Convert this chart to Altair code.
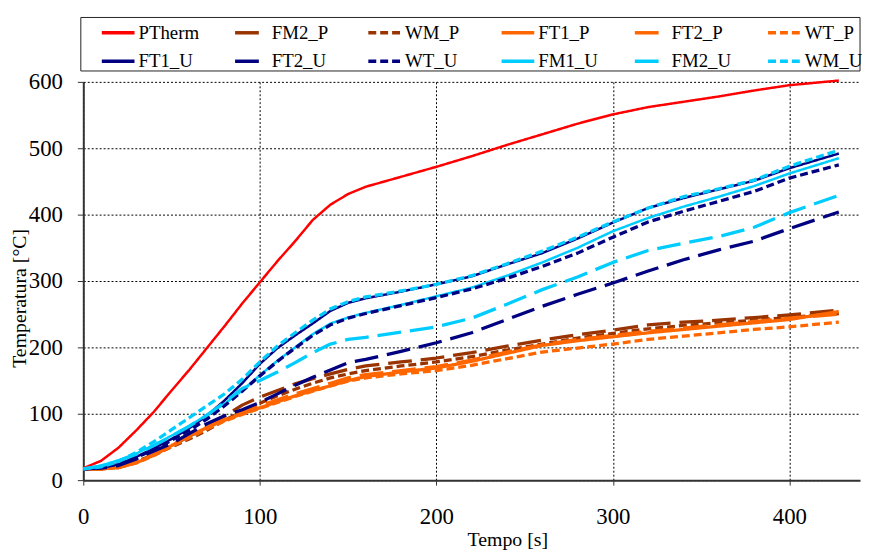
import altair as alt
import pandas as pd

# ---- data ----
time_s = [0, 10, 20, 30, 40, 50, 60, 70, 80, 90, 100, 110, 120, 130, 140, 150, 160,
          180, 200, 220, 240, 260, 280, 300, 320, 340, 360, 380, 400, 428]

ptherm = [18, 29, 49, 75, 103, 135, 166, 199, 232, 266, 298, 330, 360, 392, 415, 431, 442,
          457, 472, 488, 505, 521, 537, 551, 562, 570, 578, 587, 595, 602]
fm2_p = [17, 17, 19, 27, 38, 52, 66, 79, 96, 113, 125, 135, 145, 153, 160, 167, 172,
         178, 184, 192, 202, 211, 219, 226, 234, 238, 241, 245, 249, 256]
wm_p = [17, 17, 20, 28, 38, 50, 62, 75, 90, 104, 116, 127, 137, 146, 154, 160, 165,
        172, 178, 186, 196, 205, 214, 221, 228, 233, 237, 241, 245, 251]
ft1_p = [17, 17, 19, 26, 38, 52, 67, 79, 90, 100, 109, 118, 127, 135, 142, 150, 156,
         163, 169, 179, 191, 203, 210, 216, 222, 227, 232, 237, 242, 254]
ft2_p = [17, 17, 19, 27, 39, 53, 67, 80, 92, 103, 112, 121, 130, 138, 146, 154, 159,
         165, 171, 181, 193, 204, 212, 218, 224, 229, 234, 239, 244, 250]
wt_p = [17, 17, 19, 26, 37, 51, 64, 77, 89, 99, 108, 117, 126, 134, 142, 149, 154,
        160, 165, 173, 183, 193, 199, 205, 212, 217, 222, 227, 231, 238]
ft1_u = [17, 19, 24, 35, 48, 62, 78, 97, 120, 146, 175, 199, 218, 236, 255, 267, 274,
         284, 295, 307, 325, 342, 364, 388, 410, 425, 438, 451, 470, 492]
ft2_u = [17, 18, 22, 32, 44, 55, 70, 85, 97, 106, 117, 130, 143, 155, 166, 177, 182,
         194, 207, 222, 242, 262, 280, 297, 315, 332, 347, 360, 379, 404]
wt_u = [17, 19, 24, 34, 46, 60, 75, 92, 112, 134, 157, 179, 199, 218, 234, 244, 251,
        263, 275, 288, 304, 322, 342, 366, 389, 405, 420, 435, 455, 475]
fm1_u = [17, 22, 30, 40, 53, 67, 82, 98, 115, 135, 158, 180, 200, 220, 236, 245, 252,
         264, 277, 290, 308, 328, 350, 375, 395, 412, 427, 443, 462, 485]
fm2_u = [17, 21, 29, 39, 52, 66, 81, 98, 117, 138, 150, 163, 177, 192, 205, 212, 215,
         223, 231, 244, 265, 287, 306, 328, 346, 357, 367, 381, 403, 429]
wm_u = [17, 20, 28, 42, 58, 76, 94, 112, 130, 152, 178, 202, 222, 241, 258, 269, 276,
        285, 295, 308, 326, 345, 366, 389, 410, 427, 439, 452, 473, 497]

series_names = ["PTherm", "FM2_P", "WM_P", "FT1_P", "FT2_P", "WT_P",
                "FT1_U", "FT2_U", "WT_U", "FM1_U", "FM2_U", "WM_U"]
series_values = [ptherm, fm2_p, wm_p, ft1_p, ft2_p, wt_p,
                 ft1_u, ft2_u, wt_u, fm1_u, fm2_u, wm_u]
thin_series = ["PTherm", "FT1_U", "FM1_U"]

x_ticks = [0, 100, 200, 300, 400]
y_ticks = [0, 100, 200, 300, 400, 500, 600]

# ---- styles ----
RED, BROWN, ORANGE, NAVY, SKY = "#FF0000", "#993300", "#FF6600", "#000080", "#00CCFF"
colors = [RED, BROWN, BROWN, ORANGE, ORANGE, ORANGE, NAVY, NAVY, NAVY, SKY, SKY, SKY]
SOLID, LONG, SHORT = [1, 0], [24, 9], [8, 4]
dashes = [SOLID, LONG, SHORT, SOLID, LONG, SHORT, SOLID, LONG, SHORT, SOLID, LONG, SHORT]

rows = []
for name, vals in zip(series_names, series_values):
    for t, v in zip(time_s, vals):
        rows.append({"Tempo": t, "Temperatura": v, "Serie": name})
df = pd.DataFrame(rows)

FONT = "Liberation Serif"

x_axis = alt.Axis(values=x_ticks, labelFont=FONT, labelFontSize=23, labelColor="black",
                  labelPadding=21, labelFlush=False, tickSize=5, tickColor="#333333",
                  domainColor="#333333", domainWidth=2, grid=True, gridColor="black",
                  gridDash=[2, 2], gridWidth=1, title="Tempo [s]", titleFont=FONT,
                  titleFontSize=20, titleFontWeight="normal", titleColor="black",
                  titleX=428, titleY=66, titleAlign="center", titleBaseline="alphabetic")
y_axis = alt.Axis(values=y_ticks, labelFont=FONT, labelFontSize=23, labelColor="black",
                  labelPadding=15, tickSize=6, tickColor="#333333",
                  domainColor="#333333", domainWidth=2, grid=True, gridColor="black",
                  gridDash=[2, 2], gridWidth=1, title="Temperatura [°C]", titleFont=FONT,
                  titleFontSize=20, titleFontWeight="normal", titleColor="black",
                  titleAngle=270, titleX=-64, titleY=218, titleAlign="center",
                  titleBaseline="middle")

enc = dict(
    x=alt.X("Tempo:Q", scale=alt.Scale(domain=[0, 440], nice=False), axis=x_axis),
    y=alt.Y("Temperatura:Q", scale=alt.Scale(domain=[0, 600], nice=False), axis=y_axis),
    color=alt.Color("Serie:N", title=None,
                    scale=alt.Scale(domain=series_names, range=colors)),
    strokeDash=alt.StrokeDash("Serie:N", title=None,
                              scale=alt.Scale(domain=series_names, range=dashes)),
)

base = alt.Chart(df)
thin = base.mark_line(strokeCap="butt", strokeJoin="round", strokeWidth=2.5).encode(
    **enc).transform_filter(alt.FieldOneOfPredicate(field="Serie", oneOf=thin_series))
thick = base.mark_line(strokeCap="butt", strokeJoin="round", strokeWidth=3.3).encode(
    **enc).transform_filter(~alt.FieldOneOfPredicate(field="Serie", oneOf=thin_series))

legend_box = alt.Chart(pd.DataFrame({"k": [0]})).mark_rect(
    fillOpacity=0, stroke="#222222", strokeWidth=1
).encode(x=alt.value(-2.5), x2=alt.value(784), y=alt.value(-65), y2=alt.value(-11))

chart = alt.layer(thin, thick, legend_box).properties(
    width=784, height=402,
    autosize=alt.AutoSizeParams(type="none"),
    padding={"left": 76, "top": 72, "right": 2, "bottom": 73},
).configure_view(stroke=None).configure_legend(
    orient="none", legendX=16.7, legendY=-68.3, direction="horizontal", columns=6,
    gridAlign="all", columnPadding=28.5, rowPadding=-3, padding=0,
    symbolType="stroke", symbolSize=1089, symbolStrokeWidth=3.5, labelOffset=2,
    labelFont=FONT, labelFontSize=19, labelColor="black",
)

chart.save("out.html", embed_options={"renderer": "svg", "actions": False})
